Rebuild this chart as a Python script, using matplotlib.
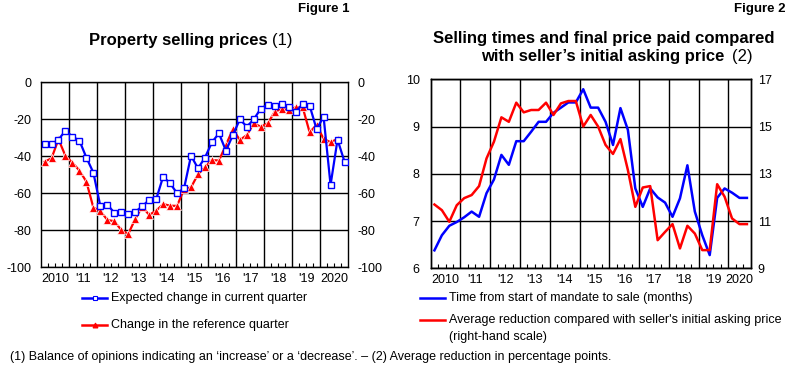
import matplotlib
matplotlib.use('Agg')
import matplotlib.pyplot as plt
from matplotlib.lines import Line2D
import numpy as np

plt.rcParams['font.family'] = ['Liberation Sans', 'DejaVu Sans']
plt.rcParams['axes.unicode_minus'] = False

# Quarterly data, 2010Q1 onwards
year_labels = ['2010', "'11", "'12", "'13", "'14", "'15", "'16", "'17", "'18", "'19", '2020']

# Figure 1 - balance of opinions
expected_change = [-33.5, -33.5, -31, -26.1, -29.4, -31.5, -40.7, -48.8, -66.9, -66.1,
                   -70.5, -70.1, -71, -70.1, -67, -63.6, -63.3, -51, -54.6, -60,
                   -57.3, -39.7, -46.5, -40.7, -32.4, -27.6, -37, -28.5, -20, -24,
                   -20, -14.2, -12.1, -13, -11.7, -13.5, -16, -11.7, -12.6, -25.4,
                   -18.6, -55.5, -31, -42.9]
reference_change = [-42.9, -41.1, -30.8, -39.8, -43.4, -47.7, -53.7, -67.7, -69.5, -74.4,
                    -75.1, -79.8, -82, -73.9, -67.2, -71.7, -69.4, -65.8, -66.7, -66.8,
                    -57.7, -56.8, -49.7, -45.9, -42, -42.3, -33.9, -25.4, -31.2, -28.5,
                    -22.2, -24, -22.2, -15.9, -14.4, -15, -13.5, -13.5, -27, -23,
                    -30.6, -32.4, -30.6]

# Figure 2 - months to sale (left) and average reduction in pp (right)
selling_time = [6.38, 6.70, 6.90, 6.98, 7.08, 7.20, 7.09, 7.59, 7.88, 8.40,
                8.19, 8.69, 8.69, 8.89, 9.10, 9.10, 9.29, 9.40, 9.51, 9.51,
                9.79, 9.40, 9.40, 9.10, 8.61, 9.39, 8.93, 7.69, 7.30, 7.69,
                7.50, 7.39, 7.09, 7.48, 8.18, 7.20, 6.70, 6.28, 7.49, 7.69,
                7.60, 7.49, 7.49]
price_reduction = [11.70, 11.46, 10.97, 11.67, 11.97, 12.10, 12.48, 13.65, 14.36, 15.39,
                   15.20, 16.01, 15.60, 15.70, 15.70, 16.01, 15.49, 15.98, 16.08, 16.08,
                   15.0, 15.49, 15.0, 14.22, 13.84, 14.47, 13.16, 11.60, 12.42, 12.48,
                   10.19, 10.54, 10.87, 9.84, 10.80, 10.47, 9.77, 9.77, 12.56, 12.03,
                   11.11, 10.87, 10.87]

BLUE = '#0000ff'
RED = '#ff0000'
FS = 9


def quarters(n):
    return 2010 + np.arange(n) / 4 + 0.125


def setup_xaxis(ax, x_end):
    ax.set_xlim(2010, x_end)
    ax.set_xticks(np.arange(2011, 2021))
    ax.set_xticklabels([])
    ax.tick_params(axis='x', which='major', length=0)
    q = [v for v in np.arange(2010, x_end, 0.25) if v % 1 != 0]
    ax.set_xticks(q, minor=True)
    ax.tick_params(axis='x', which='minor', direction='in', length=3, width=0.8)
    ax.grid(True, axis='both', which='major', color='black', lw=1)
    ax.set_axisbelow(True)
    for i, lab in enumerate(year_labels):
        mid = min(2010 + i + 0.5, (2010 + i + x_end) / 2)
        ax.text(mid, -0.03, lab, transform=ax.get_xaxis_transform(),
                ha='center', va='top', fontsize=FS)
    for s in ax.spines.values():
        s.set_color('black')
        s.set_linewidth(1)


fig = plt.figure(figsize=(8, 3.81), dpi=100)

# ---- Figure 1
ax1 = fig.add_axes([0.0513, 0.2984, 0.3837, 0.4856])
setup_xaxis(ax1, 2021)
ax1.set_ylim(-100, 0)
ax1.set_yticks(np.arange(-100, 1, 20))
ax1.tick_params(axis='y', length=0, labelsize=FS, pad=7, labelleft=True, labelright=True)

ax1.plot(quarters(len(reference_change)), reference_change, color=RED, lw=1.6,
         marker='^', ms=6, mfc=RED, mec='white', mew=0.5, zorder=3)
ax1.plot(quarters(len(expected_change)), expected_change, color=BLUE, lw=1.6,
         marker='s', ms=5, mfc='white', mec=BLUE, mew=1, zorder=4)

# ---- Figure 2
ax2 = fig.add_axes([0.5384, 0.2958, 0.3999, 0.4961])
setup_xaxis(ax2, 2020.75)
ax2.set_ylim(6, 10)
ax2.set_yticks(np.arange(6, 11, 1))
ax2.tick_params(axis='y', length=0, labelsize=FS, pad=8)
ax2.plot(quarters(len(selling_time)), selling_time, color=BLUE, lw=1.8, zorder=3)

ax2r = ax2.twinx()
ax2r.set_ylim(9, 17)
ax2r.set_yticks(np.arange(9, 18, 2))
ax2r.tick_params(axis='y', length=0, labelsize=FS, pad=5)
ax2r.plot(quarters(len(price_reduction)), price_reduction, color=RED, lw=1.8, zorder=3)
for s in ax2r.spines.values():
    s.set_linewidth(1)

# ---- Titles
fig.text(350 / 800, 1 - 9 / 381, 'Figure 1', ha='right', va='center', fontsize=9.5, weight='bold')
fig.text(785 / 800, 1 - 9 / 381, 'Figure 2', ha='right', va='center', fontsize=9.5, weight='bold')

fig.text(268 / 800, 1 - 40 / 381, 'Property selling prices', ha='right', va='center',
         fontsize=12, weight='bold')
fig.text(272 / 800, 1 - 40 / 381, '(1)', ha='left', va='center', fontsize=12)

fig.text(604 / 800, 1 - 38 / 381, 'Selling times and final price paid compared', ha='center',
         va='center', fontsize=12, weight='bold')
fig.text(724 / 800, 1 - 57 / 381, 'with seller\u2019s initial asking price', ha='right',
         va='center', fontsize=12, weight='bold')
fig.text(732 / 800, 1 - 57 / 381, '(2)', ha='left', va='center', fontsize=12)

# ---- Legends (drawn by hand to match the layout)
def legend_entry(x0, y, color, label, marker=None, mfc=None, mec=None, ms=4):
    yy = 1 - y / 381
    xs = [x0 / 800, (x0 + 12.5) / 800, (x0 + 25) / 800]
    ln = Line2D(xs, [yy] * 3, transform=fig.transFigure, color=color, lw=1.8,
                marker=marker, markevery=[1], mfc=mfc, mec=mec, ms=ms, mew=0.8)
    fig.add_artist(ln)
    fig.text((x0 + 29) / 800, yy, label, ha='left', va='center', fontsize=FS)

legend_entry(82, 298, BLUE, 'Expected change in current quarter', marker='s', mfc='white', mec=BLUE, ms=3.5)
legend_entry(82, 325, RED, 'Change in the reference quarter', marker='^', mfc=RED, mec=RED, ms=3.5)
legend_entry(420, 298, BLUE, 'Time from start of mandate to sale (months)')
legend_entry(420, 320, RED, "Average reduction compared with seller's initial asking price")
fig.text(449 / 800, 1 - 337 / 381, '(right-hand scale)', ha='left', va='center', fontsize=FS)

fig.text(10 / 800, 1 - 357 / 381,
         '(1) Balance of opinions indicating an \u2018increase\u2019 or a \u2018decrease\u2019. \u2013 '
         '(2) Average reduction in percentage points.',
         ha='left', va='center', fontsize=FS)

fig.savefig('out.png', dpi=100)
